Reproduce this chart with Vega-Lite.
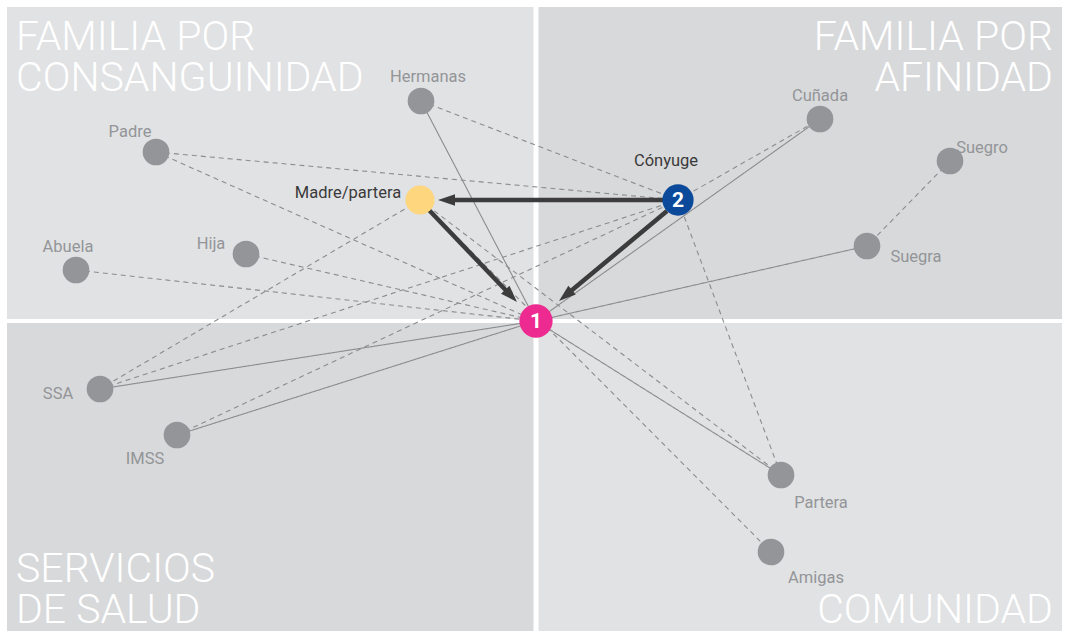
{
  "$schema": "https://vega.github.io/schema/vega-lite/v6.json",
  "width": 1065,
  "height": 631,
  "padding": 0,
  "autosize": {"type": "fit", "contains": "padding"},
  "background": "white",
  "config": {"view": {"stroke": null}},
  "datasets": {
    "quads": [
      {"q": "TL", "x0": 7, "x1": 533.5, "y0": 7, "y1": 319},
      {"q": "TR", "x0": 538.5, "x1": 1062, "y0": 7, "y1": 319},
      {"q": "BL", "x0": 7, "x1": 533.5, "y0": 323, "y1": 631},
      {"q": "BR", "x0": 538.5, "x1": 1062, "y0": 323, "y1": 631}
    ],
    "nodes": [
      {"id": "1", "x": 536, "y": 321, "kind": "ego"},
      {"id": "2", "x": 678, "y": 200, "kind": "spouse"},
      {"id": "Madre/partera", "x": 420, "y": 200, "kind": "mother"},
      {"id": "Hermanas", "x": 421, "y": 101, "kind": "other"},
      {"id": "Padre", "x": 156, "y": 152, "kind": "other"},
      {"id": "Abuela", "x": 76, "y": 270, "kind": "other"},
      {"id": "Hija", "x": 246, "y": 254, "kind": "other"},
      {"id": "Cuñada", "x": 820, "y": 119, "kind": "other"},
      {"id": "Suegro", "x": 950, "y": 161, "kind": "other"},
      {"id": "Suegra", "x": 867, "y": 246, "kind": "other"},
      {"id": "SSA", "x": 100, "y": 389, "kind": "other"},
      {"id": "IMSS", "x": 177, "y": 435, "kind": "other"},
      {"id": "Partera", "x": 781, "y": 475, "kind": "other"},
      {"id": "Amigas", "x": 771, "y": 552, "kind": "other"}
    ],
    "edges": [
      {"s": "Hermanas", "t": "1", "style": "solid"},
      {"s": "Cuñada", "t": "1", "style": "solid"},
      {"s": "Suegra", "t": "1", "style": "solid"},
      {"s": "SSA", "t": "1", "style": "solid"},
      {"s": "IMSS", "t": "1", "style": "solid"},
      {"s": "Partera", "t": "1", "style": "solid"},
      {"s": "Hermanas", "t": "2", "style": "dashed"},
      {"s": "Padre", "t": "2", "style": "dashed"},
      {"s": "Padre", "t": "1", "style": "dashed"},
      {"s": "Abuela", "t": "1", "style": "dashed"},
      {"s": "Hija", "t": "1", "style": "dashed"},
      {"s": "Madre/partera", "t": "SSA", "style": "dashed"},
      {"s": "Madre/partera", "t": "Partera", "style": "dashed"},
      {"s": "Madre/partera", "t": "Amigas", "style": "dashed"},
      {"s": "SSA", "t": "2", "style": "dashed"},
      {"s": "IMSS", "t": "2", "style": "dashed"},
      {"s": "2", "t": "Cuñada", "style": "dashed"},
      {"s": "2", "t": "Partera", "style": "dashed"},
      {"s": "Suegro", "t": "Suegra", "style": "dashed"}
    ],
    "arrows": [
      {"x": 664, "y": 200, "x2": 450, "y2": 200, "tx": 438, "ty": 200, "ang": 270},
      {"x": 428, "y": 209, "x2": 508.7, "y2": 293.3, "tx": 517, "ty": 302, "ang": 136.3},
      {"x": 667, "y": 211, "x2": 568.2, "y2": 293.3, "tx": 559, "ty": 301, "ang": 230.2}
    ],
    "labels": [
      {"label": "Hermanas", "x": 428, "y": 82, "tone": "g"},
      {"label": "Padre", "x": 130, "y": 137, "tone": "g"},
      {"label": "Madre/partera", "x": 348, "y": 198, "tone": "d"},
      {"label": "Abuela", "x": 68, "y": 252, "tone": "g"},
      {"label": "Hija", "x": 211, "y": 249, "tone": "g"},
      {"label": "Cuñada", "x": 820, "y": 101, "tone": "g"},
      {"label": "Cónyuge", "x": 666, "y": 166, "tone": "d"},
      {"label": "Suegro", "x": 982, "y": 153, "tone": "g"},
      {"label": "Suegra", "x": 916, "y": 262, "tone": "g"},
      {"label": "SSA", "x": 58, "y": 399, "tone": "g"},
      {"label": "IMSS", "x": 145, "y": 464, "tone": "g"},
      {"label": "Partera", "x": 821, "y": 508, "tone": "g"},
      {"label": "Amigas", "x": 816, "y": 583, "tone": "g"}
    ],
    "numbers": [
      {"t": "1", "x": 536, "y": 321},
      {"t": "2", "x": 678, "y": 200}
    ],
    "titlesLeft": [
      {"t": "FAMILIA POR\nCONSANGUINIDAD", "x": 16, "y": 50},
      {"t": "SERVICIOS\nDE SALUD", "x": 16, "y": 582}
    ],
    "titlesRight": [
      {"t": "FAMILIA POR\nAFINIDAD", "x": 1053, "y": 50},
      {"t": "COMUNIDAD", "x": 1053, "y": 623}
    ]
  },
  "layer": [
    {
      "data": {"name": "quads"},
      "mark": {"type": "rect", "strokeWidth": 0},
      "encoding": {
        "x": {"field": "x0", "type": "quantitative", "scale": {"domain": [0, 1065], "nice": false, "zero": false}, "axis": null},
        "x2": {"field": "x1"},
        "y": {"field": "y0", "type": "quantitative", "scale": {"domain": [0, 631], "nice": false, "zero": false, "reverse": true}, "axis": null},
        "y2": {"field": "y1"},
        "color": {
          "condition": {"test": "datum.q === 'TL' || datum.q === 'BR'", "value": "#e1e2e4"},
          "value": "#d8d9db"
        }
      }
    },
    {
      "data": {"name": "titlesLeft"},
      "mark": {"type": "text", "align": "left", "baseline": "alphabetic", "font": "Roboto", "fontWeight": 300, "fontSize": 41, "lineHeight": 41, "lineBreak": "\n", "color": "white"},
      "encoding": {
        "x": {"field": "x", "type": "quantitative"},
        "y": {"field": "y", "type": "quantitative"},
        "text": {"field": "t"}
      }
    },
    {
      "data": {"name": "titlesRight"},
      "mark": {"type": "text", "align": "right", "baseline": "alphabetic", "font": "Roboto", "fontWeight": 300, "fontSize": 41, "lineHeight": 41, "lineBreak": "\n", "color": "white"},
      "encoding": {
        "x": {"field": "x", "type": "quantitative"},
        "y": {"field": "y", "type": "quantitative"},
        "text": {"field": "t"}
      }
    },
    {
      "data": {"name": "edges"},
      "transform": [
        {"lookup": "s", "from": {"data": {"name": "nodes"}, "key": "id", "fields": ["x", "y"]}, "as": ["sx", "sy"]},
        {"lookup": "t", "from": {"data": {"name": "nodes"}, "key": "id", "fields": ["x", "y"]}, "as": ["tx", "ty"]}
      ],
      "mark": {"type": "rule", "color": "#8b8c8e", "strokeWidth": 1.1},
      "encoding": {
        "x": {"field": "sx", "type": "quantitative"},
        "y": {"field": "sy", "type": "quantitative"},
        "x2": {"field": "tx"},
        "y2": {"field": "ty"},
        "strokeDash": {"field": "style", "type": "nominal", "scale": {"domain": ["solid", "dashed"], "range": [[1, 0], [5, 4]]}, "legend": null}
      }
    },
    {
      "data": {"name": "arrows"},
      "mark": {"type": "rule", "color": "#3c3c3c", "strokeWidth": 4.5, "strokeCap": "butt"},
      "encoding": {
        "x": {"field": "x", "type": "quantitative"},
        "y": {"field": "y", "type": "quantitative"},
        "x2": {"field": "x2"},
        "y2": {"field": "y2"}
      }
    },
    {
      "data": {"name": "arrows"},
      "mark": {"type": "point", "shape": "M0,0L-0.34,1L0.34,1Z", "filled": true, "opacity": 1, "color": "#3c3c3c", "size": 1156, "strokeWidth": 0},
      "encoding": {
        "x": {"field": "tx", "type": "quantitative"},
        "y": {"field": "ty", "type": "quantitative"},
        "angle": {"field": "ang", "type": "quantitative", "scale": null}
      }
    },
    {
      "data": {"name": "nodes"},
      "mark": {"type": "circle", "opacity": 1, "strokeWidth": 0},
      "encoding": {
        "x": {"field": "x", "type": "quantitative"},
        "y": {"field": "y", "type": "quantitative"},
        "size": {"field": "kind", "type": "nominal", "scale": {"domain": ["ego", "spouse", "mother", "other"], "range": [1110, 710, 410, 400]}, "legend": null},
        "color": {"field": "kind", "type": "nominal", "scale": {"domain": ["ego", "spouse", "mother", "other"], "range": ["#ec2a8f", "#0b4a9b", "#fdd67e", "#939598"]}, "legend": null}
      }
    },
    {
      "data": {"name": "numbers"},
      "mark": {"type": "text", "font": "Roboto", "fontWeight": "bold", "fontSize": 21, "color": "white", "align": "center", "baseline": "middle", "dy": 1},
      "encoding": {
        "x": {"field": "x", "type": "quantitative"},
        "y": {"field": "y", "type": "quantitative"},
        "text": {"field": "t"}
      }
    },
    {
      "data": {"name": "labels"},
      "mark": {"type": "text", "font": "Roboto", "fontSize": 16.5, "align": "center", "baseline": "alphabetic"},
      "encoding": {
        "x": {"field": "x", "type": "quantitative"},
        "y": {"field": "y", "type": "quantitative"},
        "text": {"field": "label"},
        "color": {"condition": {"test": "datum.tone === 'd'", "value": "#3a3a3a"}, "value": "#939598"}
      }
    }
  ],
  "resolve": {"scale": {"color": "independent", "size": "independent"}}
}
